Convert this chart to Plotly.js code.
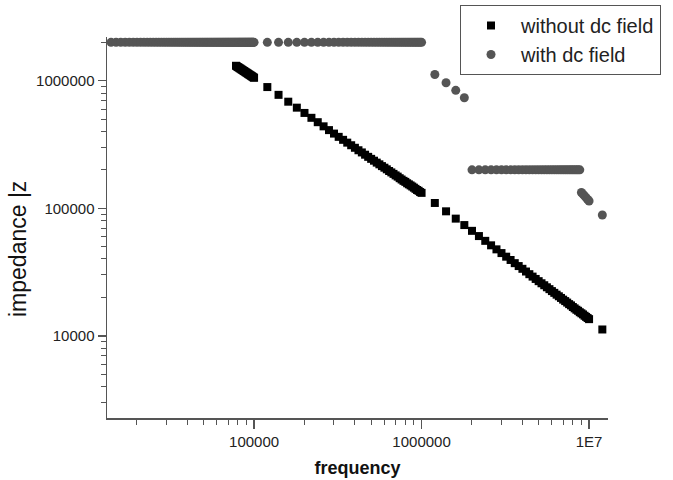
<!DOCTYPE html>
<html>
<head>
<meta charset="utf-8">
<script src="https://cdn.plot.ly/plotly-3.0.1.min.js"></script>
<style>html,body{margin:0;padding:0;background:#fff;}#chart{width:673px;height:480px;}</style>
</head>
<body>
<div id="chart"></div>
<script>
// frequency (Hz) and |Z| readings, "without dc field"
const withoutFreq = [
78000,79000,80000,81000,82000,83000,84000,85000,86000,87000,88000,89000,90000,91000,92000,93000,94000,95000,96000,97000,98000,99000,100000,
120000,140000,160000,180000,200000,220000,240000,260000,280000,300000,320000,340000,360000,380000,400000,420000,440000,460000,480000,500000,
520000,540000,560000,580000,600000,620000,640000,660000,680000,700000,720000,740000,760000,780000,800000,820000,840000,860000,880000,900000,
920000,940000,960000,980000,1000000,
1200000,1400000,1600000,1800000,2000000,2200000,2400000,2600000,2800000,3000000,3200000,3400000,3600000,3800000,4000000,4200000,4400000,
4600000,4800000,5000000,5200000,5400000,5600000,5800000,6000000,6200000,6400000,6600000,6800000,7000000,7200000,7400000,7600000,7800000,
8000000,8200000,8400000,8600000,8800000,9000000,9200000,9400000,9600000,9800000,10000000,
12000000
];
const withoutZ = [
1310000,1296000,1282000,1268000,1255000,1242000,1229000,1216000,1204000,1192000,1180000,1168000,1157000,1146000,1135000,1124000,1114000,1104000,1094000,1084000,1074000,1064000,1055000,
892000,775000,685000,615000,559000,512000,473000,439000,410000,385000,363000,344000,327000,312000,298000,285000,274000,263000,253000,244000,
236000,228000,221000,214000,208000,202000,196000,191000,186000,181000,177000,172000,168000,164000,161000,157000,154000,151000,148000,145000,
142000,139000,137000,134000,132000,
110000,94600,82900,73800,66500,60500,55500,51200,47600,44500,41700,39300,37100,35200,33500,31900,30400,
29100,27900,26800,25800,24900,24000,23200,22400,21700,21000,20400,19800,19200,18700,18200,17700,17300,
16800,16400,16000,15700,15300,15000,14700,14350,14060,13770,13500,
11200
];

// frequency (Hz) and |Z| readings, "with dc field"
const withFreq = [
13000,14000,15000,16000,17000,18000,19000,20000,21000,22000,23000,24000,25000,26000,27000,28000,29000,30000,
31000,32000,33000,34000,35000,36000,37000,38000,39000,40000,41000,42000,43000,44000,45000,46000,47000,48000,49000,50000,
51000,52000,53000,54000,55000,56000,57000,58000,59000,60000,61000,62000,63000,64000,65000,66000,67000,68000,69000,70000,
71000,72000,73000,74000,75000,76000,77000,78000,79000,80000,81000,82000,83000,84000,85000,86000,87000,88000,89000,90000,
91000,92000,93000,94000,95000,96000,97000,98000,99000,100000,
120000,140000,160000,180000,200000,220000,240000,260000,280000,300000,320000,340000,360000,380000,400000,420000,440000,460000,480000,500000,
520000,540000,560000,580000,600000,620000,640000,660000,680000,700000,720000,740000,760000,780000,800000,820000,840000,860000,880000,900000,
920000,940000,960000,980000,1000000,
1200000,1400000,1600000,1800000,
2000000,2200000,2400000,2600000,2800000,3000000,3200000,3400000,3600000,3800000,4000000,4200000,4400000,4600000,4800000,5000000,
5200000,5400000,5600000,5800000,6000000,6200000,6400000,6600000,6800000,7000000,7200000,7400000,7600000,7800000,8000000,8200000,
8400000,8600000,8800000,
9000000,9200000,9400000,9600000,9800000,10000000,
12000000
];
const withZ = [
2000000,2000000,2000000,2000000,2000000,2000000,2000000,2000000,2000000,2000000,2000000,2000000,2000000,2000000,2000000,2000000,2000000,2000000,
2000000,2000000,2000000,2000000,2000000,2000000,2000000,2000000,2000000,2000000,2000000,2000000,2000000,2000000,2000000,2000000,2000000,2000000,2000000,2000000,
2000000,2000000,2000000,2000000,2000000,2000000,2000000,2000000,2000000,2000000,2000000,2000000,2000000,2000000,2000000,2000000,2000000,2000000,2000000,2000000,
2000000,2000000,2000000,2000000,2000000,2000000,2000000,2000000,2000000,2000000,2000000,2000000,2000000,2000000,2000000,2000000,2000000,2000000,2000000,2000000,
2000000,2000000,2000000,2000000,2000000,2000000,2000000,2000000,2000000,2000000,
2000000,2000000,2000000,2000000,2000000,2000000,2000000,2000000,2000000,2000000,2000000,2000000,2000000,2000000,2000000,2000000,2000000,2000000,2000000,2000000,
2000000,2000000,2000000,2000000,2000000,2000000,2000000,2000000,2000000,2000000,2000000,2000000,2000000,2000000,2000000,2000000,2000000,2000000,2000000,2000000,
2000000,2000000,2000000,2000000,2000000,
1120000,965000,841000,736000,
200000,200000,200000,200000,200000,200000,200000,200000,200000,200000,200000,200000,200000,200000,200000,200000,
200000,200000,200000,200000,200000,200000,200000,200000,200000,200000,200000,200000,200000,200000,200000,200000,
200000,200000,200000,
133000,129000,125000,121000,117000,114000,
88500
];

const xTickVals = [100000, 1000000, 10000000];
const xTickText = ['100000', '1000000', '1E7'];
const yTickVals = [10000, 100000, 1000000];
const yTickText = ['10000', '100000', '1000000'];
const seriesNames = ['without dc field', 'with dc field'];
const xTitle = 'frequency';
const yTitle = 'impedance |z';

const axisColor = '#555';
const font = 'Liberation Sans, Arial, Helvetica, sans-serif';

const traces = [
  {
    x: withoutFreq, y: withoutZ, name: seriesNames[0], type: 'scatter', mode: 'markers',
    marker: {symbol: 'square', size: 8, color: '#000'}, cliponaxis: false
  },
  {
    x: withFreq, y: withZ, name: seriesNames[1], type: 'scatter', mode: 'markers',
    marker: {symbol: 'circle', size: 9, color: '#555'}, cliponaxis: false
  }
];

const layout = {
  width: 673, height: 480,
  margin: {l: 107, r: 65, t: 37, b: 62, pad: 0, autoexpand: false},
  paper_bgcolor: '#fff', plot_bgcolor: '#fff',
  font: {family: font, color: '#000', size: 15},
  showlegend: true,
  legend: {
    x: 0.7046, xanchor: 'left', y: 1.084, yanchor: 'top',
    bordercolor: axisColor, borderwidth: 1, bgcolor: '#fff',
    font: {family: font, size: 20, color: '#222'}, itemwidth: 50
  },
  annotations: [{
    text: yTitle, xref: 'paper', yref: 'paper', x: -0.1776, y: 0.4436,
    xanchor: 'center', yanchor: 'middle', textangle: -90, showarrow: false,
    font: {family: font, size: 23, color: '#111'}
  }],
  xaxis: {
    type: 'log', range: [4.122, 7.113],
    showline: true, linecolor: axisColor, linewidth: 1.5, mirror: false,
    showgrid: false, zeroline: false,
    ticks: 'outside', ticklen: 9, tickwidth: 1.5, tickcolor: axisColor,
    tickmode: 'array', tickvals: xTickVals, ticktext: xTickText,
    tickfont: {family: font, size: 15, color: '#222'},
    minor: {ticks: 'outside', ticklen: 5, tickwidth: 1, tickcolor: axisColor, dtick: 'D1', showgrid: false},
    title: {text: xTitle, font: {family: font, size: 18, color: '#111', weight: 'bold'}, standoff: 13},
    automargin: false
  },
  yaxis: {
    type: 'log', range: [3.355, 6.343],
    showline: true, linecolor: axisColor, linewidth: 1.5, mirror: false,
    showgrid: false, zeroline: false,
    ticks: 'outside', ticklen: 8, tickwidth: 1.5, tickcolor: axisColor,
    tickmode: 'array', tickvals: yTickVals, ticktext: yTickText,
    tickfont: {family: font, size: 15, color: '#222'},
    minor: {ticks: 'outside', ticklen: 5, tickwidth: 1, tickcolor: axisColor, dtick: 'D1', showgrid: false},
    automargin: false
  }
};

Plotly.newPlot('chart', traces, layout, {displayModeBar: false, staticPlot: true});
</script>
</body>
</html>
